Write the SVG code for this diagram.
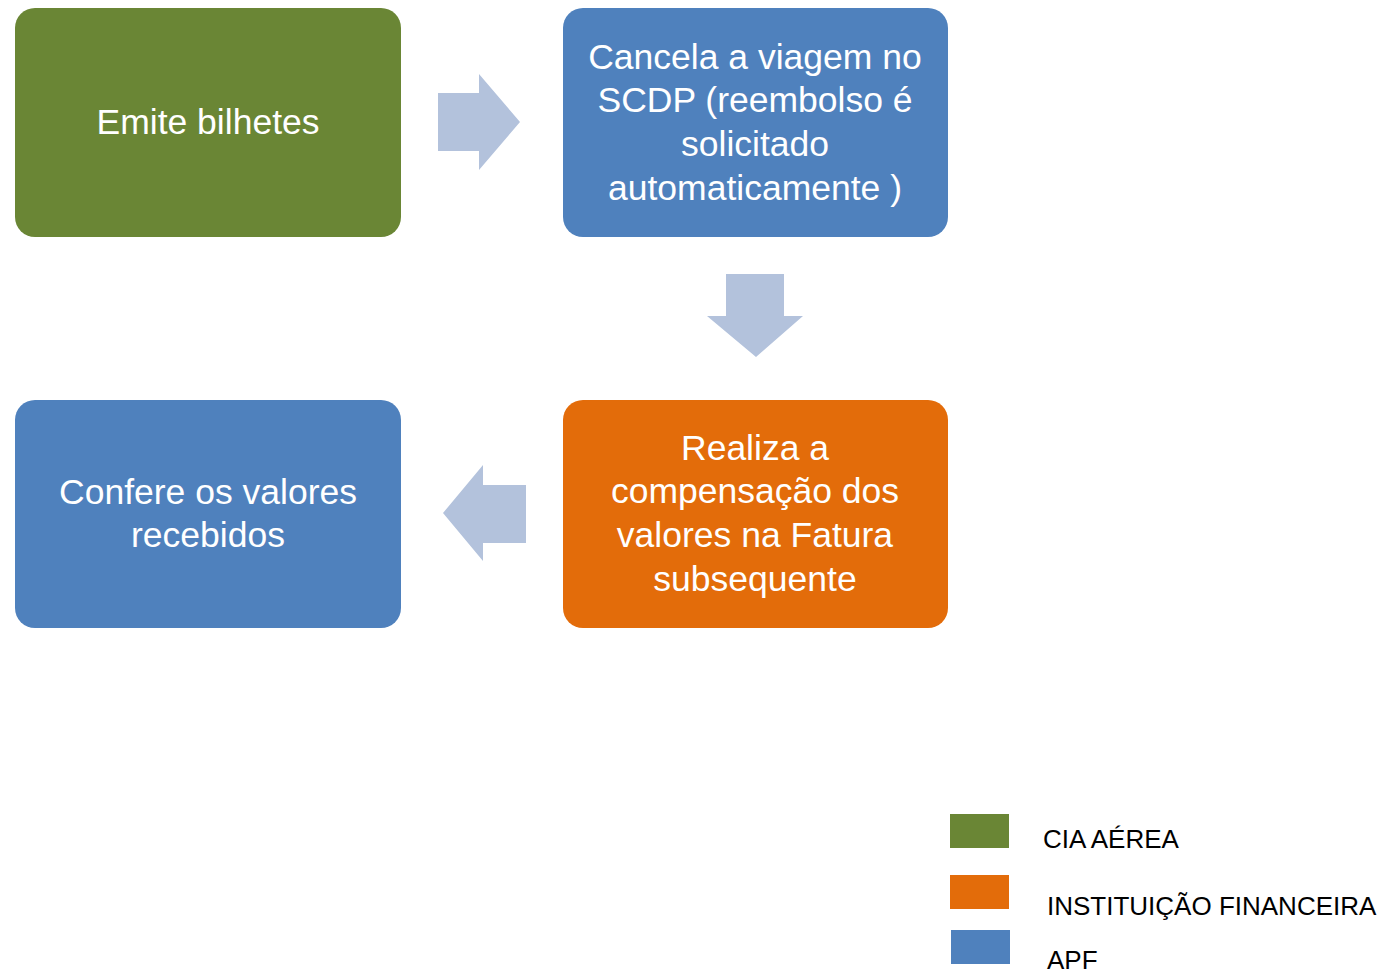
<svg xmlns="http://www.w3.org/2000/svg" width="1390" height="973" viewBox="0 0 1390 973">
<style>
.box{stroke:none}
.g{fill:#6A8635}
.b{fill:#4F81BD}
.o{fill:#E36C0A}
.arr{fill:#B3C2DC}
.t{font-family:"Liberation Sans",Arial,sans-serif;font-size:35.5px;fill:#FFFFFF;text-anchor:middle}
.lg{font-family:"Liberation Sans",Arial,sans-serif;font-size:26px;fill:#000000}
</style>
<rect width="1390" height="973" fill="#FFFFFF"/>
<g id="connectors">
<polygon class="arr" points="438,93 479,93 479,74 520,122 479,170 479,151 438,151"/>
<polygon class="arr" points="726,274 784,274 784,316 803,316 756,357 707,316 726,316"/>
<polygon class="arr" points="526,485 483,485 483,465 443,513 483,561 483,543 526,543"/>
</g>
<g id="node-emite">
<rect class="box g" x="15" y="8" width="386" height="229" rx="20"/>
<text class="t" x="208" y="134">Emite bilhetes</text>
</g>
<g id="node-cancela">
<rect class="box b" x="563" y="8" width="385" height="229" rx="20"/>
<text class="t" x="755" y="69">Cancela a viagem no</text>
<text class="t" x="755" y="112">SCDP (reembolso é</text>
<text class="t" x="755" y="156">solicitado</text>
<text class="t" x="755" y="200">automaticamente )</text>
</g>
<g id="node-realiza">
<rect class="box o" x="563" y="400" width="385" height="228" rx="20"/>
<text class="t" x="755" y="460">Realiza a</text>
<text class="t" x="755" y="503">compensação dos</text>
<text class="t" x="755" y="547">valores na Fatura</text>
<text class="t" x="755" y="591">subsequente</text>
</g>
<g id="node-confere">
<rect class="box b" x="15" y="400" width="386" height="228" rx="20"/>
<text class="t" x="208" y="504">Confere os valores</text>
<text class="t" x="208" y="547">recebidos</text>
</g>
<g id="legend">
<rect class="g" x="950" y="814" width="59" height="34"/>
<rect class="o" x="950" y="875" width="59" height="34"/>
<rect class="b" x="951" y="930" width="59" height="34"/>
<text class="lg" x="1043" y="848">CIA AÉREA</text>
<text class="lg" x="1047" y="915">INSTITUIÇÃO FINANCEIRA</text>
<text class="lg" x="1047" y="969">APF</text>
</g>
</svg>
